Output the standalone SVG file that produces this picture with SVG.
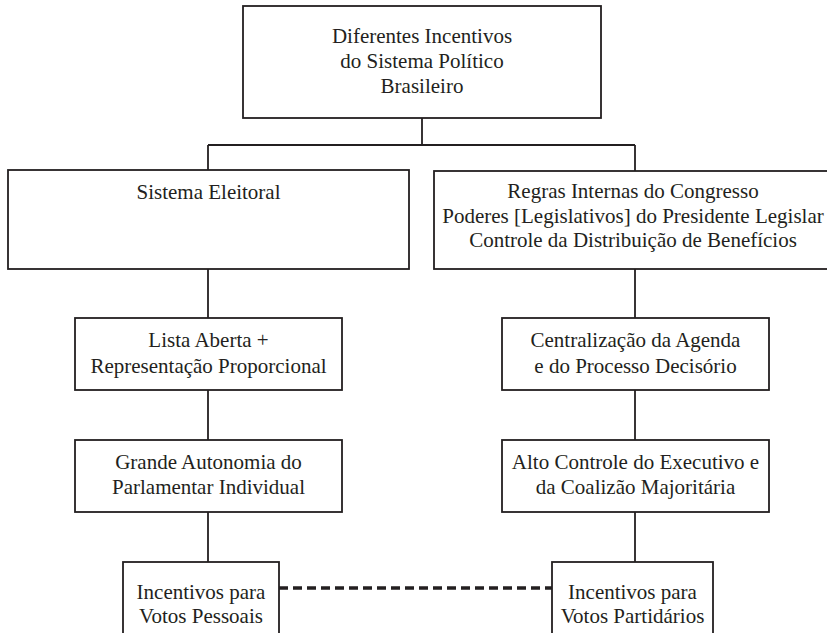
<svg xmlns="http://www.w3.org/2000/svg" width="827" height="633" viewBox="0 0 827 633">
<style>
.box{fill:#fff;stroke:#231f20;stroke-width:1.8}
.ln{stroke:#231f20;stroke-width:1.8;fill:none}
.dash{stroke:#231f20;stroke-width:3.5;stroke-dasharray:9 5;fill:none}
.t{font-family:'Liberation Serif','Times New Roman',Times,serif;font-size:21px;fill:#231f20;text-anchor:middle}
</style>
<rect width="827" height="633" fill="#fff"/>
<g id="connectors">
<line class="ln" x1="422" y1="118" x2="422" y2="145"/>
<line class="ln" x1="208" y1="145" x2="635" y2="145"/>
<line class="ln" x1="208" y1="145" x2="208" y2="170"/>
<line class="ln" x1="635" y1="145" x2="635" y2="171"/>
<line class="ln" x1="208" y1="269" x2="208" y2="318"/>
<line class="ln" x1="208" y1="390" x2="208" y2="440"/>
<line class="ln" x1="208" y1="512" x2="208" y2="562"/>
<line class="ln" x1="635" y1="269" x2="635" y2="318"/>
<line class="ln" x1="635" y1="390" x2="635" y2="440"/>
<line class="ln" x1="635" y1="512" x2="635" y2="562"/>
<line class="dash" x1="279" y1="588" x2="552" y2="588"/>
</g>
<g class="t" font-family="Liberation Serif, serif">
<g id="n-top">
<rect class="box" x="243" y="6" width="358" height="112"/>
<text x="422" y="43">Diferentes Incentivos</text>
<text x="422" y="68">do Sistema Político</text>
<text x="422" y="93">Brasileiro</text>
</g>
<g id="n-sistema">
<rect class="box" x="8" y="170" width="401" height="99"/>
<text x="208.5" y="199">Sistema Eleitoral</text>
</g>
<g id="n-regras">
<rect class="box" x="434" y="171" width="400" height="98"/>
<text x="633" y="198">Regras Internas do Congresso</text>
<text x="633" y="223">Poderes [Legislativos] do Presidente Legislar</text>
<text x="633" y="247">Controle da Distribuição de Benefícios</text>
</g>
<g id="n-lista">
<rect class="box" x="75" y="318" width="267" height="72"/>
<text x="208.5" y="347">Lista Aberta +</text>
<text x="208.5" y="373">Representação Proporcional</text>
</g>
<g id="n-autonomia">
<rect class="box" x="75" y="440" width="267" height="72"/>
<text x="208.5" y="469">Grande Autonomia do</text>
<text x="208.5" y="494">Parlamentar Individual</text>
</g>
<g id="n-centralizacao">
<rect class="box" x="502" y="318" width="267" height="72"/>
<text x="635.5" y="347">Centralização da Agenda</text>
<text x="635.5" y="373">e do Processo Decisório</text>
</g>
<g id="n-controle">
<rect class="box" x="502" y="440" width="267" height="72"/>
<text x="635.5" y="469">Alto Controle do Executivo e</text>
<text x="635.5" y="494">da Coalizão Majoritária</text>
</g>
<g id="n-pessoais">
<rect class="box" x="123" y="562" width="156" height="80"/>
<text x="201" y="599">Incentivos para</text>
<text x="201" y="623">Votos Pessoais</text>
</g>
<g id="n-partidarios">
<rect class="box" x="552" y="562" width="161" height="80"/>
<text x="632.5" y="599">Incentivos para</text>
<text x="632.5" y="623">Votos Partidários</text>
</g>
</g>
</svg>
